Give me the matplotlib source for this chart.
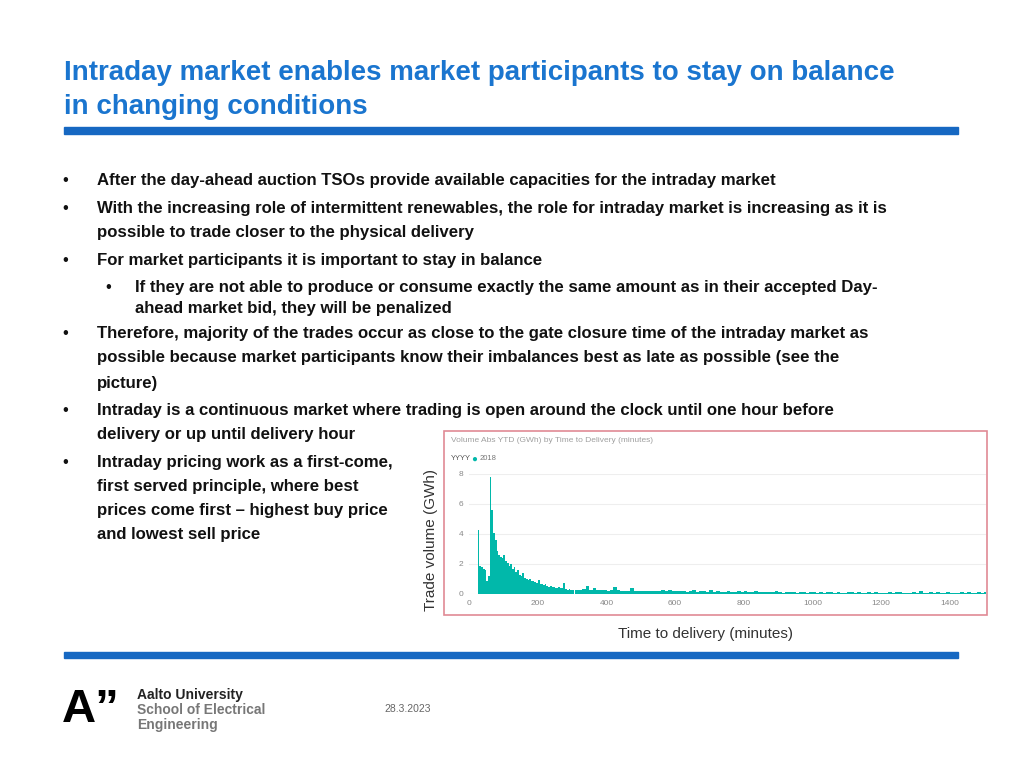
import numpy as np
import matplotlib
matplotlib.use("Agg")
import matplotlib.pyplot as plt
from matplotlib.patches import Rectangle

plt.rcParams["font.family"] = "Liberation Sans"

# ---- data ----
minutes_early = list(range(25, 301, 5))
volume_early = [4.3, 1.9, 1.8, 1.7, 1.6, 0.9, 1.2, 7.8, 5.6, 4.1, 3.6, 2.9, 2.6, 2.5, 2.4, 2.6,
                2.2, 2.1, 1.9, 2.0, 1.7, 1.8, 1.5, 1.6, 1.3, 1.2, 1.4, 1.1, 1.0, 0.95, 1.0, 0.85,
                0.9, 0.8, 0.75, 0.95, 0.7, 0.65, 0.6, 0.7, 0.55, 0.5, 0.55, 0.45, 0.5, 0.42, 0.4,
                0.45, 0.38, 0.4, 0.75, 0.35, 0.3, 0.33, 0.3, 0.28]
minutes_late = list(range(310, 1501, 10))
volume_late = [0.3, 0.25, 0.35, 0.55, 0.3, 0.4, 0.25, 0.3, 0.28, 0.22,
               0.3, 0.5, 0.25, 0.2, 0.22, 0.18, 0.4, 0.2, 0.18, 0.2,
               0.18, 0.2, 0.22, 0.17, 0.2, 0.25, 0.18, 0.28, 0.2, 0.22,
               0.18, 0.2, 0.15, 0.22, 0.25, 0.16, 0.18, 0.2, 0.15, 0.3,
               0.15, 0.18, 0.14, 0.16, 0.2, 0.13, 0.15, 0.18, 0.14, 0.2,
               0.12, 0.15, 0.18, 0.13, 0.12, 0.16, 0.11, 0.14, 0.2, 0.12,
               0.1, 0.13, 0.12, 0.15, 0.1, 0.11, 0.13, 0.1, 0.12, 0.14,
               0.1, 0.12, 0.09, 0.11, 0.15, 0.1, 0.12, 0.09, 0.1, 0.11,
               0.12, 0.1, 0.14, 0.09, 0.1, 0.12, 0.1, 0.11, 0.09, 0.1,
               0.1, 0.12, 0.09, 0.11, 0.13, 0.1, 0.09, 0.1, 0.11, 0.1,
               0.18, 0.1, 0.09, 0.11, 0.1, 0.12, 0.09, 0.1, 0.11, 0.1,
               0.1, 0.09, 0.12, 0.1, 0.11, 0.09, 0.1, 0.12, 0.1, 0.13]
x_ticks = [0, 200, 400, 600, 800, 1000, 1200, 1400]
y_ticks = [0, 2, 4, 6, 8]

W, H = 1024, 768
fig = plt.figure(figsize=(10.24, 7.68), dpi=100)
fig.patch.set_facecolor("white")

def fx(x): return x / W
def fy(y): return 1 - y / H

title_blue = "#1A75CF"

fig.text(fx(64), fy(73), "Intraday market enables market participants to stay on balance",
         color=title_blue, fontsize=20, fontweight="bold", va="center")
fig.text(fx(64), fy(107), "in changing conditions",
         color=title_blue, fontsize=20, fontweight="bold", va="center")
fig.patches.append(Rectangle((fx(64), fy(134)), fx(958 - 64), 7 / H, transform=fig.transFigure,
                             color="#1668C2", zorder=1))
fig.patches.append(Rectangle((fx(64), fy(658)), fx(958 - 64), 6 / H, transform=fig.transFigure,
                             color="#1668C2", zorder=1))

fs = 12.1
lines = [
    (62, 97, 180, True, "After the day-ahead auction TSOs provide available capacities for the intraday market"),
    (62, 97, 208, True, "With the increasing role of intermittent renewables, the role for intraday market is increasing as it is"),
    (62, 97, 233, False, "possible to trade closer to the physical delivery"),
    (62, 97, 261, True, "For market participants it is important to stay in balance"),
    (105, 135, 287, True, "If they are not able to produce or consume exactly the same amount as in their accepted Day-"),
    (105, 135, 308, False, "ahead market bid, they will be penalized"),
    (62, 97, 334, True, "Therefore, majority of the trades occur as close to the gate closure time of the intraday market as"),
    (62, 97, 358, False, "possible because market participants know their imbalances best as late as possible (see the"),
    (62, 97, 383, False, "picture)"),
    (62, 97, 411, True, "Intraday is a continuous market where trading is open around the clock until one hour before"),
    (62, 97, 435, False, "delivery or up until delivery hour"),
    (62, 97, 462, True, "Intraday pricing work as a first-come,"),
    (62, 97, 487, False, "first served principle, where best"),
    (62, 97, 511, False, "prices come first \u2013 highest buy price"),
    (62, 97, 535, False, "and lowest sell price"),
]
for bx, tx, y, bullet, s in lines:
    if bullet:
        fig.text(fx(bx), fy(y), "\u2022", fontsize=fs, color="#111111", va="center")
    fig.text(fx(tx), fy(y), s, fontsize=fs, fontweight="bold", color="#111111", va="center")

# chart frame
fig.patches.append(Rectangle((fx(444), fy(615)), fx(987 - 444), (615 - 431) / H,
                             transform=fig.transFigure, fill=False, edgecolor="#E08A95",
                             linewidth=1.2, zorder=5))
fig.text(fx(451), fy(441), "Volume Abs YTD (GWh) by Time to Delivery (minutes)",
         fontsize=6, color="#A0A0A0", va="center")
fig.text(fx(451), fy(459), "YYYY", fontsize=5.5, color="#555555", va="center")
fig.text(fx(471), fy(459), "\u25CF", fontsize=7, color="#01B8AA", va="center")
fig.text(fx(480), fy(459), "2018", fontsize=5.5, color="#777777", va="center")

ax = fig.add_axes([fx(469), fy(594), fx(986 - 469), (594 - 474) / H])
ax.bar(minutes_early, volume_early, width=5.3, align="edge", color="#01B8AA", linewidth=0)
ax.bar(minutes_late, volume_late, width=10.5, align="edge", color="#01B8AA", linewidth=0)
ax.set_xlim(0, 1505)
ax.set_ylim(0, 8)
ax.set_xticks(x_ticks)
ax.set_yticks(y_ticks)
ax.tick_params(length=0, labelsize=6, colors="#888888", pad=4)
for s in ax.spines.values():
    s.set_visible(False)
ax.grid(axis="y", color="#EEEEEE", linewidth=0.8)
ax.set_axisbelow(True)

fig.text(fx(431), fy(540), "Trade volume (GWh)", rotation=90, fontsize=11, color="#333333",
         va="center", ha="center")
fig.text(fx(705), fy(634), "Time to delivery (minutes)", fontsize=11, color="#333333",
         va="center", ha="center")

# footer
fig.text(fx(62), fy(710), "A\u201D", fontsize=34, fontweight="bold", color="black", va="center")
fig.text(fx(137), fy(695), "Aalto University", fontsize=10, fontweight="bold", color="#222222", va="center")
fig.text(fx(137), fy(710), "School of Electrical", fontsize=10, fontweight="bold", color="#777777", va="center")
fig.text(fx(137), fy(725), "Engineering", fontsize=10, fontweight="bold", color="#777777", va="center")
fig.text(fx(384), fy(709), "28.3.2023", fontsize=7.5, color="#666666", va="center")

fig.savefig("out.png", dpi=100)
